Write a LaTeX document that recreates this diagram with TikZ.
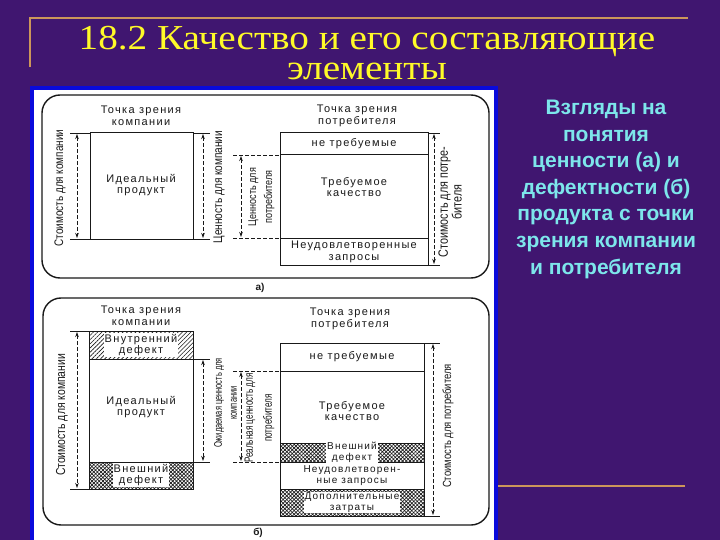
\documentclass[tikz,border=0pt]{standalone}
\usepackage{fontspec}
\setmainfont{Liberation Sans}
\newfontfamily\titlefont[FakeStretch=1.12]{Liberation Serif}
\newfontfamily\labfont[LetterSpace=12]{Liberation Sans}
\newfontfamily\rotfont[FakeStretch=0.8]{Liberation Sans}
\newfontfamily\rotnfont[FakeStretch=0.68]{Liberation Sans}
\usetikzlibrary{arrows.meta,patterns.meta}
\definecolor{bgpurple}{RGB}{64,22,112}
\definecolor{goldline}{RGB}{205,150,90}
\definecolor{titleyellow}{RGB}{255,250,40}
\definecolor{sidecyan}{RGB}{125,230,235}
\definecolor{panelblue}{RGB}{10,10,220}
\definecolor{ink}{RGB}{25,25,25}
\begin{document}
\begin{tikzpicture}[x=1pt,y=-1pt,
  frame/.style={draw=ink, line width=1.4pt, rounded corners=18pt},
  boxline/.style={draw=ink, line width=1pt},
  lab/.style={font=\labfont\fontsize{11}{11.5}\selectfont, text=ink, align=center, inner sep=0pt},
  smalllab/.style={font=\labfont\fontsize{10}{11}\selectfont, text=ink, align=center, inner sep=0.8pt},
  dim/.style={draw=ink, dash pattern=on 4pt off 2pt, line width=0.8pt,
     {Stealth[length=5pt,width=3.5pt]}-{Stealth[length=5pt,width=3.5pt]}},
  ext/.style={draw=ink, line width=0.8pt},
  dext/.style={draw=ink, line width=0.8pt, dash pattern=on 4pt off 2pt},
  rot/.style={rotate=90, text=ink, align=center, inner sep=0pt},
  sidetext/.style={font=\bfseries\fontsize{21}{24}\selectfont, text=sidecyan, anchor=base},
  titletext/.style={font=\titlefont\fontsize{35}{30}\selectfont, text=titleyellow, inner sep=0pt, align=center},
  hatchA/.style={pattern={Lines[angle=45,distance=3pt,line width=0.6pt]}, pattern color=ink},
  crossA/.style={pattern={Lines[angle=45,distance=2.6pt,line width=0.7pt]}, pattern color=ink},
  crossB/.style={pattern={Lines[angle=-45,distance=2.6pt,line width=0.7pt]}, pattern color=ink}
]
% background
\fill[bgpurple] (0,0) rectangle (720,540);
\useasboundingbox (0,0) rectangle (720,540);

% gold lines
\draw[goldline, line width=1.6pt] (30,67) -- (30,18) -- (688,18);
\draw[goldline, line width=1.6pt] (498,486) -- (685,486);

% title
\node[titletext, anchor=base] (title) at (367,80) {18.2 Качество и его составляющие\\элементы};

% side text
\foreach \t [count=\i] in {Взгляды на, понятия, ценности (а) и, дефектности (б), продукта с точки, зрения компании, и потребителя}{
  \node[sidetext] (side\i) at (606,{115+26.5*(\i-1)}) {\t};
}

% white panel
\fill[white] (32,88) rectangle (496,540);
\draw[panelblue, line width=3.5pt] (32,540) -- (32,88) -- (496,88) -- (496,540);

% frames
\draw[frame] (42,95) rectangle (489,278);
\draw[frame] (43,298) rectangle (489,525);
\node[font=\bfseries\fontsize{10}{12}\selectfont, text=ink] (la) at (260,288) {а)};
\node[font=\bfseries\fontsize{10}{12}\selectfont, text=ink] (lb) at (258,533) {б)};

% ===== part a =====
% left box
\draw[boxline] (90,133) rectangle (193,239);
\node[lab] (aTz) at (141,116) {Точка зрения\\компании};
\node[lab] (aIp) at (141,185) {Идеальный\\продукт};
\draw[ext] (70,133) -- (90,133); \draw[ext] (70,239) -- (90,239);
\draw[dim] (77,134) -- (77,238);
\node[rot, font=\rotfont\fontsize{12.4}{13}\selectfont] (aSc) at (60,188) {Стоимость для компании};
\draw[ext] (193,133) -- (210,133); \draw[ext] (193,239) -- (210,239);
\draw[dim] (203,134) -- (203,238);
\node[rot, font=\rotfont\fontsize{12.6}{13}\selectfont] (aCc) at (219,187) {Ценность для компании};
% consumer value
\draw[dext] (233,155) -- (280,155); \draw[dext] (233,238) -- (280,238);
\draw[dim] (241,156) -- (241,237);
\node[rot, font=\rotfont\fontsize{11.3}{16}\selectfont] (aCp) at (261.5,197) {Ценность для\\потребителя};
% right box
\draw[boxline] (280,133) rectangle (428,265);
\draw[boxline] (280,155) -- (428,155);
\draw[boxline] (280,238) -- (428,238);
\node[lab] (aTp) at (357,116) {Точка зрения\\потребителя};
\node[lab] (aNt) at (354,144) {не требуемые};
\node[lab] (aTk) at (354,187) {Требуемое\\качество};
\node[lab] (aNz) at (354,252) {Неудовлетворенные\\запросы};
\draw[ext] (428,133) -- (440,133); \draw[ext] (428,265) -- (440,265);
\draw[dim] (434,134) -- (434,264);
\node[rot, font=\rotfont\fontsize{13.5}{12}\selectfont] (aSp) at (450,202) {Стоимость для потре-\\бителя};

% ===== part b =====
% left box
\fill[hatchA] (89,331) rectangle (193,359);
\fill[crossA] (89,462) rectangle (193,489);
\fill[crossB] (89,462) rectangle (193,489);
\draw[boxline] (89,331) rectangle (193,489);
\draw[boxline] (89,359) -- (193,359);
\draw[boxline] (89,462) -- (193,462);
\node[lab] (bTz) at (141,316) {Точка зрения\\компании};
\node[lab, fill=white, inner sep=0.8pt] (bVd) at (141,345) {Внутренний\\дефект};
\node[lab] (bIp) at (141,407) {Идеальный\\продукт};
\node[lab, fill=white, inner sep=0.8pt] (bEd) at (141,475) {Внешний\\дефект};
\draw[ext] (70,331) -- (89,331); \draw[ext] (70,489) -- (89,489);
\draw[dim] (77,332) -- (77,488);
\node[rot, font=\rotfont\fontsize{13}{13}\selectfont] (bSc) at (62,415) {Стоимость для компании};
\draw[ext] (193,359) -- (210,359); \draw[ext] (193,462) -- (210,462);
\draw[dim] (203,360) -- (203,461);
\node[rot, font=\rotnfont\fontsize{11}{15}\selectfont] (bOc) at (225.5,403) {Ожидаемая ценность для\\компании};
% real consumer value
\draw[dext] (233,371) -- (280,371); \draw[dext] (233,462) -- (280,462);
\draw[dim] (241,372) -- (241,461);
\node[rot, font=\rotnfont\fontsize{12}{19}\selectfont] (bRc) at (259.5,418) {Реальная ценность для\\потребителя};
% right box
\fill[crossA] (280,443) rectangle (424,462);
\fill[crossB] (280,443) rectangle (424,462);
\fill[crossA] (280,489) rectangle (424,516);
\fill[crossB] (280,489) rectangle (424,516);
\draw[boxline] (280,343) rectangle (424,516);
\draw[boxline] (280,371) -- (424,371);
\draw[boxline] (280,443) -- (424,443);
\draw[boxline] (280,462) -- (424,462);
\draw[boxline] (280,489) -- (424,489);
\node[lab] (bTp) at (350,319) {Точка зрения\\потребителя};
\node[lab] (bNt) at (352,357) {не требуемые};
\node[lab] (bTk) at (352,411) {Требуемое\\качество};
\node[smalllab, fill=white] (bEd2) at (352,452.5) {Внешний\\дефект};
\node[smalllab] (bNz) at (352,476) {Неудовлетворен-\\ные запросы};
\node[smalllab, fill=white] (bDz) at (352,502.5) {Дополнительные\\затраты};
\draw[ext] (424,343) -- (440,343); \draw[ext] (424,516) -- (440,516);
\draw[dim] (433,344) -- (433,515);
\node[rot, font=\rotfont\fontsize{11.8}{13}\selectfont] (bSp) at (448,426) {Стоимость для потребителя};
\end{tikzpicture}
\end{document}
